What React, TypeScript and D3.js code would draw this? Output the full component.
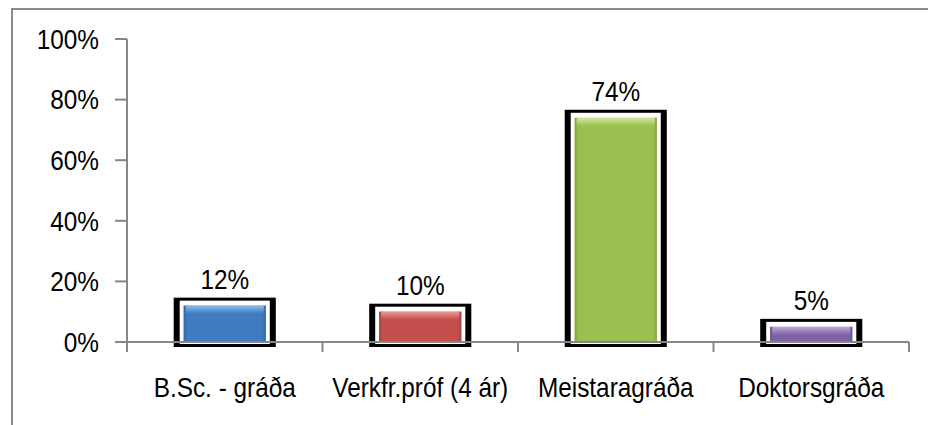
import { useEffect, useRef } from 'react'
import * as d3 from 'd3'

const categories = ['B.Sc. - gráða', 'Verkfr.próf (4 ár)', 'Meistaragráða', 'Doktorsgráða']
const values = [0.12, 0.1, 0.74, 0.05]
const valueLabels = ['12%', '10%', '74%', '5%']
const barColors = ['#3f7bc1', '#c44f4c', '#9bc04f', '#7f63a6']
const barHighlights = ['#8dbbee', '#eb9a97', '#d2e89c', '#bfaadc']
const yTicks = [0, 0.2, 0.4, 0.6, 0.8, 1]

const W = 928
const H = 425
const FONT = '"Liberation Sans", Arial, sans-serif'
const SQUEEZE = 0.87

export default function App() {
  const svgRef = useRef<SVGSVGElement>(null)

  useEffect(() => {
    if (!svgRef.current) return
    const svg = d3.select(svgRef.current)
    svg.selectAll('*').remove()

    const x = d3.scaleBand<string>().domain(categories).range([127, 909]).paddingInner(0.58).paddingOuter(0.29)
    const y = d3.scaleLinear().domain([0, 1]).range([342, 39])
    const step = x.step()
    const bw = x.bandwidth()

    const defs = svg.append('defs')
    barColors.forEach((c, i) => {
      const top = defs.append('linearGradient').attr('id', `top${i}`).attr('x1', 0).attr('y1', 0).attr('x2', 0).attr('y2', 1)
      top.append('stop').attr('offset', '0%').attr('stop-color', barHighlights[i])
      top.append('stop').attr('offset', '100%').attr('stop-color', c)
      const side = defs.append('linearGradient').attr('id', `side${i}`).attr('x1', 0).attr('y1', 0).attr('x2', 1).attr('y2', 0)
      side.append('stop').attr('offset', '0%').attr('stop-color', d3.color(c)!.darker(0.6).formatHex())
      side.append('stop').attr('offset', '100%').attr('stop-color', c)
    })

    // outer border (top + left)
    svg.append('line').attr('x1', 11).attr('x2', W).attr('y1', 9).attr('y2', 9).attr('stroke', '#8a8a8a').attr('stroke-width', 2)
    svg.append('line').attr('x1', 12).attr('x2', 12).attr('y1', 8).attr('y2', H).attr('stroke', '#8a8a8a').attr('stroke-width', 2)

    // bars with black frame
    const bars = svg.append('g')
    categories.forEach((cat, i) => {
      const bx = x(cat)!
      const by = y(values[i])
      const base = y(0)
      bars.append('rect').attr('x', bx - 10).attr('y', by - 8).attr('width', bw + 20).attr('height', base + 5 - (by - 8)).attr('fill', '#000')
      bars.append('rect').attr('x', bx - 4).attr('y', by - 5).attr('width', bw + 8).attr('height', base + 2 - (by - 5)).attr('fill', '#fff')
      bars.append('rect').attr('x', bx).attr('y', by).attr('width', bw).attr('height', base - by).attr('fill', barColors[i])
      // bevel edges
      const h = base - by
      const e = Math.min(5, h / 3)
      bars.append('rect').attr('x', bx).attr('y', by).attr('width', 4).attr('height', h).attr('fill', `url(#side${i})`).attr('opacity', 0.8)
      bars.append('rect').attr('x', bx + bw - 4).attr('y', by).attr('width', 4).attr('height', h)
        .attr('fill', `url(#side${i})`).attr('opacity', 0.8).attr('transform', `rotate(180,${bx + bw - 2},${by + h / 2})`)
      bars.append('rect').attr('x', bx + 2).attr('y', by).attr('width', bw - 4).attr('height', e + 3).attr('fill', `url(#top${i})`)

      const lbl = bars.append('g').attr('transform', `translate(${bx + bw / 2},${by - 17}) scale(${SQUEEZE},1)`)
      lbl.append('text').attr('text-anchor', 'middle').attr('font-family', FONT).attr('font-size', 28).attr('fill', '#000').text(valueLabels[i])
    })

    // y axis
    const yAxis = svg.append('g')
    yAxis.append('line').attr('x1', 127).attr('x2', 127).attr('y1', y(1)).attr('y2', y(0) + 10).attr('stroke', '#868686').attr('stroke-width', 2)
    yTicks.forEach(t => {
      yAxis.append('line').attr('x1', 115).attr('x2', 127).attr('y1', y(t)).attr('y2', y(t)).attr('stroke', '#868686').attr('stroke-width', 2)
      const g = yAxis.append('g').attr('transform', `translate(99,${y(t)}) scale(${SQUEEZE},1)`)
      g.append('text').attr('text-anchor', 'end').attr('dy', '0.35em').attr('font-family', FONT).attr('font-size', 28).attr('fill', '#000')
        .text(d3.format('.0%')(t))
    })

    // x axis
    const xAxis = svg.append('g')
    xAxis.append('line').attr('x1', 115).attr('x2', 909).attr('y1', y(0)).attr('y2', y(0)).attr('stroke', '#868686').attr('stroke-width', 2)
    categories.forEach((cat, i) => {
      const right = x(cat)! + bw + step * 0.29
      xAxis.append('line').attr('x1', right).attr('x2', right).attr('y1', y(0)).attr('y2', y(0) + 10).attr('stroke', '#868686').attr('stroke-width', 2)
      const g = xAxis.append('g').attr('transform', `translate(${x(cat)! + bw / 2},397) scale(${SQUEEZE},1)`)
      g.append('text').attr('text-anchor', 'middle').attr('font-family', FONT).attr('font-size', 28).attr('fill', '#000').text(categories[i])
    })
  }, [])

  return (
    <svg ref={svgRef} width={W} height={H} style={{ position: 'fixed', left: 0, top: 0, background: '#fff' }} />
  )
}
